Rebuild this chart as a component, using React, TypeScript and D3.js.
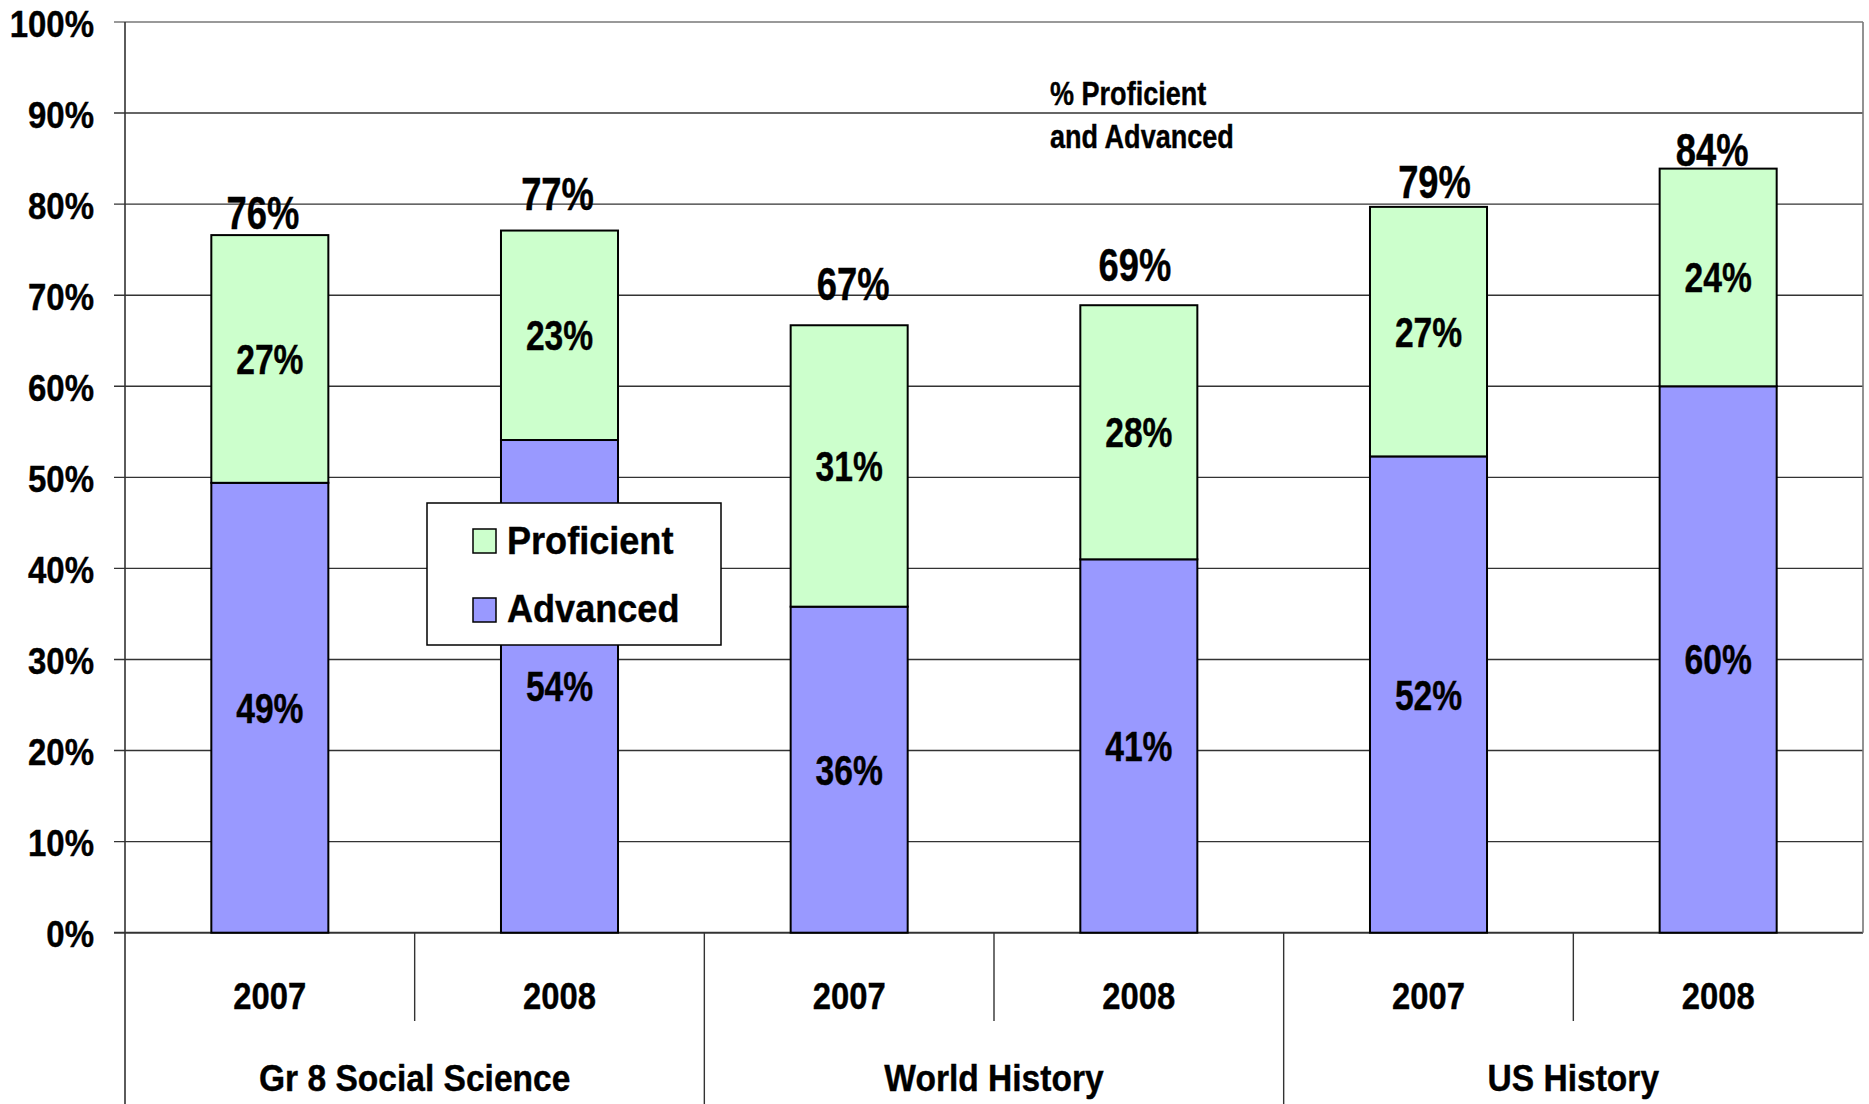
import React from "react";
import * as d3 from "d3";

const years = ["2007", "2008", "2007", "2008", "2007", "2008"];
const groups = ["Gr 8 Social Science", "World History", "US History"];
const advanced = [49.4, 54.1, 35.8, 41.0, 52.3, 60.0];
const proficient = [27.2, 23.0, 30.9, 27.9, 27.4, 23.9];
const advancedLabels = ["49%", "54%", "36%", "41%", "52%", "60%"];
const proficientLabels = ["27%", "23%", "31%", "28%", "27%", "24%"];
const totalLabels = ["76%", "77%", "67%", "69%", "79%", "84%"];
const totalLabelLift = [6, 21, 25, 24, 9, 3];
const totalLabelShift = [-7, -2, 4, -4, 6, -6];
const yTicks = [0, 10, 20, 30, 40, 50, 60, 70, 80, 90, 100];
const seriesNames = ["Advanced", "Proficient"];
const colors: Record<string, string> = { Advanced: "#9999FF", Proficient: "#CCFFCC" };

const W = 1869;
const H = 1104;
const FONT = "'Liberation Sans', Arial, sans-serif";

function SText(props: {
  x: number; y: number; sx: number; size: number; anchor?: string; children: React.ReactNode; weight?: string;
}) {
  const { x, y, sx, size, anchor = "middle", children, weight = "bold" } = props;
  return (
    <text
      transform={`translate(${x},${y}) scale(${sx},1)`}
      fontFamily={FONT}
      fontWeight={weight}
      fontSize={size}
      textAnchor={anchor as any}
      fill="#000"
      stroke="#000"
      strokeWidth={0.4}
    >
      {children}
    </text>
  );
}

export default function App() {
  const left = 125;
  const right = 1863;
  const top = 22;
  const bottom = 932.7;

  const idx = years.map((_, i) => String(i));
  const x = d3.scaleBand<string>().domain(idx).range([left, right]).paddingInner(0.596).paddingOuter(0.298);
  const y = d3.scaleLinear().domain([0, 100]).range([bottom, top]);

  const table = years.map((yr, i) => ({ key: String(i), Advanced: advanced[i], Proficient: proficient[i] }));
  const stacked = d3.stack<any>().keys(seriesNames)(table);

  const step = x.step();
  const bandStart = (i: number) => left + i * step;

  return (
    <svg
      width={W}
      height={H}
      style={{ position: "absolute", left: 0, top: 0, background: "#fff" }}
    >
      <rect x={0} y={0} width={W} height={H} fill="#fff" />
      {yTicks.map((t) => (
        <line
          key={"g" + t}
          x1={114}
          x2={right}
          y1={y(t)}
          y2={y(t)}
          stroke={t === 100 ? "#777" : "#333"}
          strokeWidth={t === 0 ? 2 : 1.4}
        />
      ))}
      <line x1={right} x2={right} y1={top} y2={bottom} stroke="#777" strokeWidth={1.6} />
      <line x1={left} x2={left} y1={top} y2={H} stroke="#333" strokeWidth={1.6} />
      {years.map((_, i) => {
        if (i === 0) return null;
        const xx = bandStart(i);
        const isGroup = i % 2 === 0;
        return (
          <line
            key={"d" + i}
            x1={xx}
            x2={xx}
            y1={bottom}
            y2={isGroup ? H : 1021}
            stroke="#333"
            strokeWidth={1.4}
          />
        );
      })}
      {yTicks.map((t) => (
        <SText key={"t" + t} x={94} y={y(t) + 14.5} sx={0.875} size={37.7} anchor="end">
          {t + "%"}
        </SText>
      ))}
      {stacked.map((s) =>
        s.map((d, i) => (
          <rect
            key={s.key + i}
            x={x(String(i))!}
            y={y(d[1])}
            width={x.bandwidth()}
            height={y(d[0]) - y(d[1])}
            fill={colors[s.key]}
            stroke="#000"
            strokeWidth={2}
          />
        ))
      )}
      {stacked.map((s) =>
        s.map((d, i) => (
          <SText
            key={"l" + s.key + i}
            x={x(String(i))! + x.bandwidth() / 2}
            y={(y(d[0]) + y(d[1])) / 2 + 15}
            sx={0.8}
            size={42}
          >
            {s.key === "Advanced" ? advancedLabels[i] : proficientLabels[i]}
          </SText>
        ))
      )}
      {table.map((d, i) => (
        <SText
          key={"tot" + i}
          x={x(String(i))! + x.bandwidth() / 2 + totalLabelShift[i]}
          y={y(advanced[i] + proficient[i]) - totalLabelLift[i]}
          sx={0.79}
          size={46}
        >
          {totalLabels[i]}
        </SText>
      ))}
      {years.map((yr, i) => (
        <SText key={"y" + i} x={bandStart(i) + step / 2} y={1009} sx={0.87} size={37.7}>
          {yr}
        </SText>
      ))}
      {groups.map((g, gi) => (
        <SText key={"grp" + gi} x={bandStart(gi * 2) + step} y={1091} sx={0.89} size={37.7}>
          {g}
        </SText>
      ))}
      <SText x={1050} y={105} sx={0.82} size={33} anchor="start">% Proficient</SText>
      <SText x={1050} y={148} sx={0.82} size={33} anchor="start">and Advanced</SText>
      <rect x={427} y={503} width={294} height={142} fill="#fff" stroke="#000" strokeWidth={1.5} />
      {["Proficient", "Advanced"].map((name, i) => (
        <g key={"lg" + name}>
          <rect
            x={473}
            y={529 + i * 69}
            width={23}
            height={24}
            fill={colors[name]}
            stroke="#000"
            strokeWidth={1.5}
          />
          <SText x={507} y={554 + i * 68} sx={0.95} size={38} anchor="start">
            {name}
          </SText>
        </g>
      ))}
    </svg>
  );
}
